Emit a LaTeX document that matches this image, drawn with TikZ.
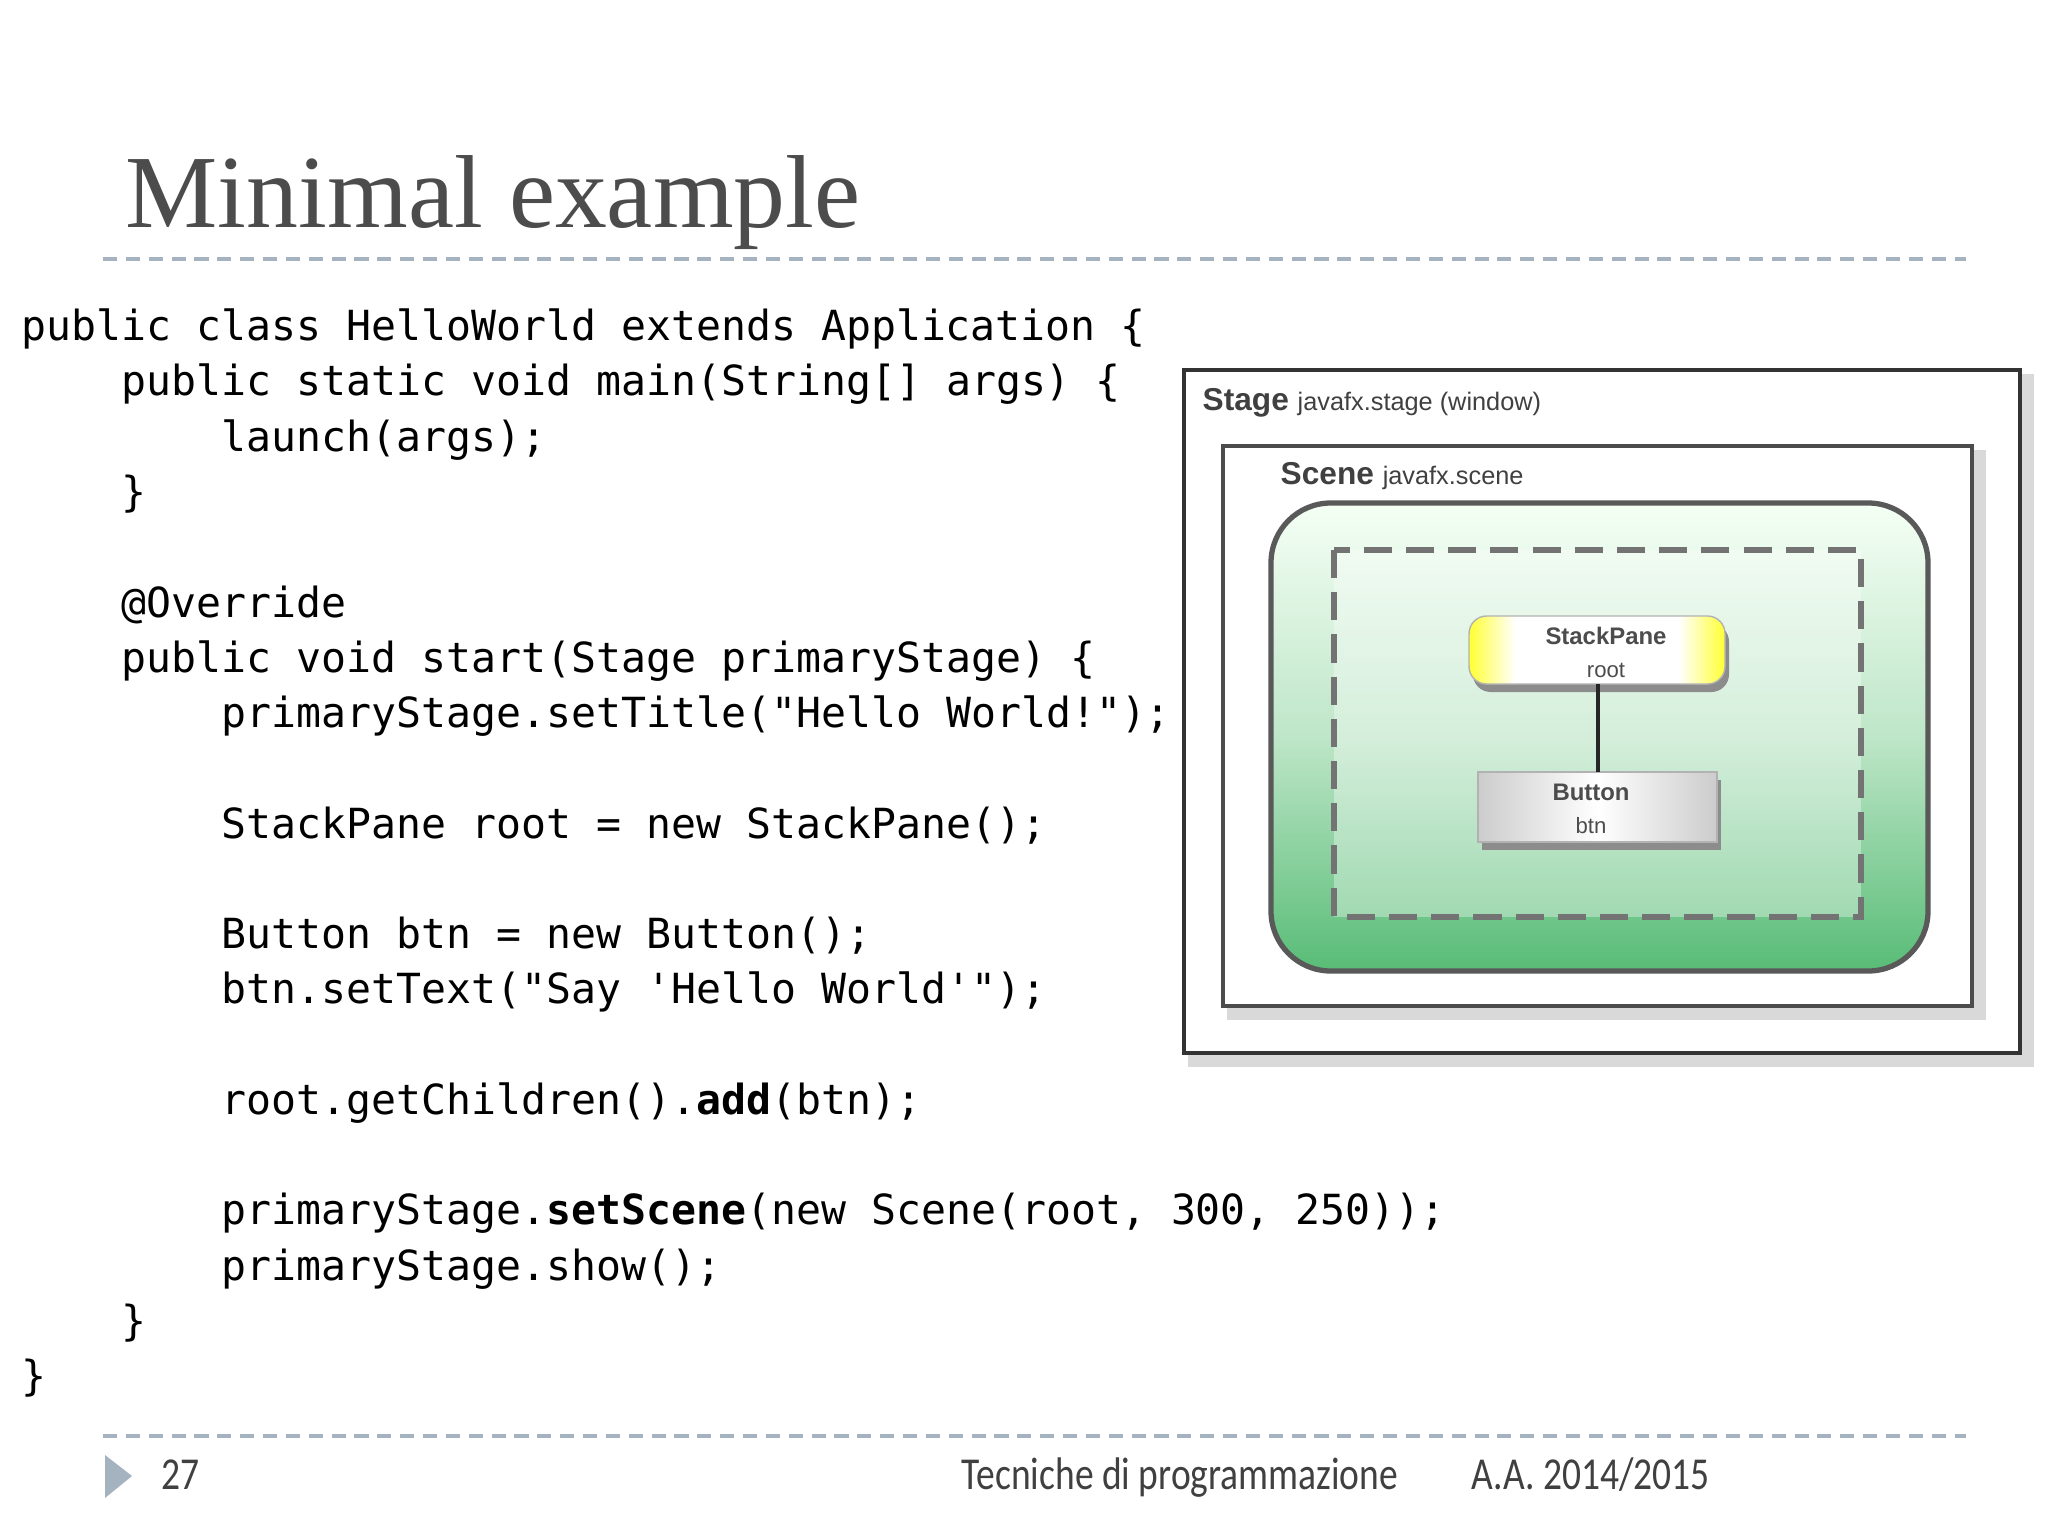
\documentclass[tikz,border=0pt]{standalone}
\usepackage{fontspec}
\setmainfont{Liberation Serif}
\newfontfamily\codefont{DejaVu Sans Mono}
\newfontfamily\footfont[FakeStretch=0.82]{Carlito}
\newfontfamily\diagfont{Liberation Sans}
\definecolor{sepcol}{RGB}{165,178,192}
\begin{document}
\begin{tikzpicture}[x=0.01cm,y=-0.01cm,
  codeline/.style={anchor=base west,inner sep=0,font=\codefont\fontsize{11.8}{13}\selectfont,text=black},
  sepline/.style={draw=sepcol,line width=1pt,dash pattern=on 4pt off 2.5pt},
  dtitle/.style={anchor=base west,inner sep=0,font=\diagfont\fontsize{9}{11}\selectfont,text=black!75},
  nodetxt/.style={anchor=base,inner sep=0,font=\diagfont\fontsize{6.8}{8}\selectfont,text=black!70}]
\useasboundingbox (0,0) rectangle (2048,1536);
\fill[white] (0,0) rectangle (2048,1536);
% title
\node[anchor=base west,inner sep=0,font=\fontsize{29.5}{34}\selectfont,text=black!70] (title) at (125,227) {Minimal example};
\coordinate (t1) at (103,259); \coordinate (t2) at (1966,259);
\draw[sepline] (t1) -- (t2);
% code
\node[codeline] (c1) at (21,340) {public class HelloWorld extends Application \{};
\node[codeline] (c2) at (121,395) {public static void main(String[] args) \{};
\node[codeline] (c3) at (221,451) {launch(args);};
\node[codeline] (c4) at (121,506) {\}};
\node[codeline] (c6) at (121,617) {@Override};
\node[codeline] (c7) at (121,672) {public void start(Stage primaryStage) \{};
\node[codeline] (c8) at (221,727) {primaryStage.setTitle("Hello World!");};
\node[codeline] (c10) at (221,838) {StackPane root = new StackPane();};
\node[codeline] (c12) at (221,948) {Button btn = new Button();};
\node[codeline] (c13) at (221,1003) {btn.setText("Say \symbol{39}Hello World\symbol{39}");};
\node[codeline] (c15) at (221,1114) {root.getChildren().\textbf{add}(btn);};
\node[codeline] (c17) at (221,1224) {primaryStage.\textbf{setScene}(new Scene(root, 300, 250));};
\node[codeline] (c18) at (221,1280) {primaryStage.show();};
\node[codeline] (c19) at (121,1335) {\}};
\node[codeline] (c20) at (21,1390) {\}};
% diagram: stage
\fill[black!35] (1192,378) rectangle (2030,1063);
\fill[black!15] (1188,374) rectangle (2034,1067);
\draw[black!80,line width=1.2pt,fill=white] (1184,370) rectangle (2020,1053);
\node[dtitle] (stage) at (1202,410) {\textbf{Stage} {\fontsize{7.2}{9}\selectfont javafx.stage (window)}};
% scene
\fill[black!35] (1231,454) rectangle (1982,1016);
\fill[black!15] (1227,450) rectangle (1986,1020);
\draw[black!70,line width=1pt,fill=white] (1223,446) rectangle (1972,1006);
\node[dtitle] (scene) at (1280,484) {\textbf{Scene} {\fontsize{7.2}{9}\selectfont javafx.scene}};
% green rounded
\shade[top color=green!4!white,bottom color={rgb,255:red,88;green,188;blue,118},middle color={rgb,255:red,190;green,230;blue,200},rounded corners=17pt,draw=black!65,line width=1.5pt]
  (1271,503) rectangle (1928,971);
\draw[black!55,line width=1.6pt,dash pattern=on 8pt off 4pt,fill=white,fill opacity=0.35] (1334,550) rectangle (1861,917);
% nodes
\fill[black!45,rounded corners=5pt] (1473,624) rectangle (1729,692);
\fill[white,rounded corners=5pt] (1469,616) rectangle (1725,684);
\begin{scope}
\clip[rounded corners=5pt] (1469,616) rectangle (1725,684);
\shade[left color=yellow!80,right color=white] (1469,616) rectangle (1515,684);
\shade[left color=white,right color=yellow!80] (1679,616) rectangle (1725,684);
\end{scope}
\draw[black!30,rounded corners=5pt] (1469,616) rectangle (1725,684);
\node[nodetxt] (sp) at (1606,644) {\textbf{StackPane}};
\node[nodetxt] (spr) at (1606,677) {\fontsize{6.3}{8}\selectfont root};
\fill[black!45] (1482,780) rectangle (1721,850);
\shade[left color=black!20,right color=black!20,middle color=white,draw=black!30] (1478,772) rectangle (1717,842);
\node[nodetxt] (bt) at (1591,800) {\textbf{Button}};
\node[nodetxt] (btn) at (1591,833) {\fontsize{6.3}{8}\selectfont btn};
\coordinate (sptop) at (1598,684); \coordinate (btbot) at (1598,772);
\draw[black!85,line width=1.3pt] (sptop) -- (btbot);
% footer
\coordinate (f1) at (103,1436); \coordinate (f2) at (1966,1436);
\draw[sepline] (f1) -- (f2);
\fill[sepcol] (105,1455) -- (132,1476) -- (105,1498) -- cycle;
\node[anchor=base west,inner sep=0,font=\footfont\fontsize{13}{16}\selectfont,text=black!75] (pg) at (161,1489) {27};
\node[anchor=base west,inner sep=0,font=\footfont\fontsize{13}{16}\selectfont,text=black!75] (ft) at (961,1489) {Tecniche di programmazione};
\node[anchor=base west,inner sep=0,font=\footfont\fontsize{13}{16}\selectfont,text=black!75] (aa) at (1471,1489) {A.A. 2014/2015};
\end{tikzpicture}
\end{document}
